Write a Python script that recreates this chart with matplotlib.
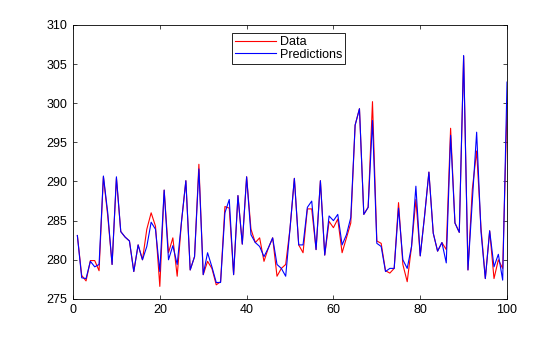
import matplotlib
matplotlib.use("Agg")
import matplotlib.pyplot as plt
import numpy as np

plt.rcParams['font.family'] = ['Liberation Sans', 'DejaVu Sans']

# Sample index 1..100
x = np.arange(1, 101)

# Observed values
data = [
    283.1, 278.0, 277.3, 279.9, 279.9, 278.6, 290.6, 285.6, 279.4, 290.4,
    283.6, 282.9, 282.4, 278.5, 281.9, 280.0, 283.9, 286.0, 284.3, 276.6,
    288.9, 280.9, 282.8, 277.9, 284.9, 290.1, 278.7, 280.4, 292.2, 278.1,
    279.8, 278.9, 276.8, 277.2, 286.8, 286.6, 278.1, 288.2, 282.0, 290.6,
    283.9, 282.2, 282.8, 279.8, 281.5, 282.8, 277.9, 278.9, 279.4, 284.0,
    290.4, 281.9, 280.9, 286.5, 286.5, 281.3, 290.1, 280.6, 284.9, 284.1,
    285.2, 280.9, 282.8, 284.7, 297.2, 299.3, 285.8, 286.7, 300.2, 282.4,
    282.1, 278.6, 278.3, 278.9, 287.3, 279.4, 277.2, 281.7, 287.7, 280.5,
    285.6, 291.2, 283.4, 281.1, 282.2, 281.3, 296.8, 284.7, 283.5, 306.0,
    278.7, 289.0, 293.9, 284.1, 277.6, 283.7, 277.6, 280.0, 278.9, 299.5,
]

# Model output
predictions = [
    283.1, 277.7, 277.6, 279.8, 279.1, 279.4, 290.7, 286.0, 279.4, 290.6,
    283.6, 282.9, 282.4, 278.5, 281.9, 280.0, 281.7, 284.8, 283.9, 278.5,
    288.9, 280.0, 281.8, 279.4, 284.9, 290.1, 278.7, 280.4, 291.6, 278.1,
    280.9, 279.1, 277.1, 277.1, 286.0, 287.7, 278.1, 288.2, 282.0, 290.6,
    283.2, 282.2, 281.7, 280.4, 281.5, 282.8, 279.4, 278.9, 277.9, 284.0,
    290.4, 281.9, 281.9, 286.7, 287.5, 281.3, 290.1, 280.6, 285.6, 285.0,
    285.8, 281.9, 283.2, 285.4, 297.2, 299.3, 285.8, 286.7, 297.8, 282.1,
    281.7, 278.5, 278.9, 278.9, 286.6, 280.0, 278.9, 281.7, 289.4, 280.5,
    285.6, 291.2, 283.4, 281.1, 282.2, 279.6, 295.9, 284.7, 283.5, 306.1,
    278.7, 287.5, 296.3, 283.6, 277.6, 283.7, 279.1, 280.7, 277.4, 302.7,
]

xticks = [0, 20, 40, 60, 80, 100]
yticks = [275, 280, 285, 290, 295, 300, 305, 310]

fig = plt.figure(figsize=(5.6, 3.37), dpi=100)
ax = fig.add_axes([0.1304, 0.113, 0.775, 0.813])

ax.plot(x, data, color=(1, 0, 0), lw=0.8, label='Data')
ax.plot(x, predictions, color=(0, 0, 1), lw=0.8, label='Predictions')

ax.set_xlim(0, 100)
ax.set_ylim(275, 310)
ax.set_xticks(xticks)
ax.set_yticks(yticks)
ax.tick_params(direction='in', top=True, right=True, length=3.2, width=0.5,
               labelsize=9, pad=4)
for s in ax.spines.values():
    s.set_linewidth(0.6)
    s.set_color('black')

leg = ax.legend(loc='upper left', bbox_to_anchor=(0.366, 0.971),
                fontsize=9, frameon=True, fancybox=False, borderpad=0.25,
                labelspacing=0.05, handlelength=3.3, handletextpad=0.3,
                borderaxespad=0)
leg.get_frame().set_edgecolor('black')
leg.get_frame().set_linewidth(0.6)
leg.get_frame().set_alpha(1)

fig.savefig('out.png', dpi=100, facecolor='white')
